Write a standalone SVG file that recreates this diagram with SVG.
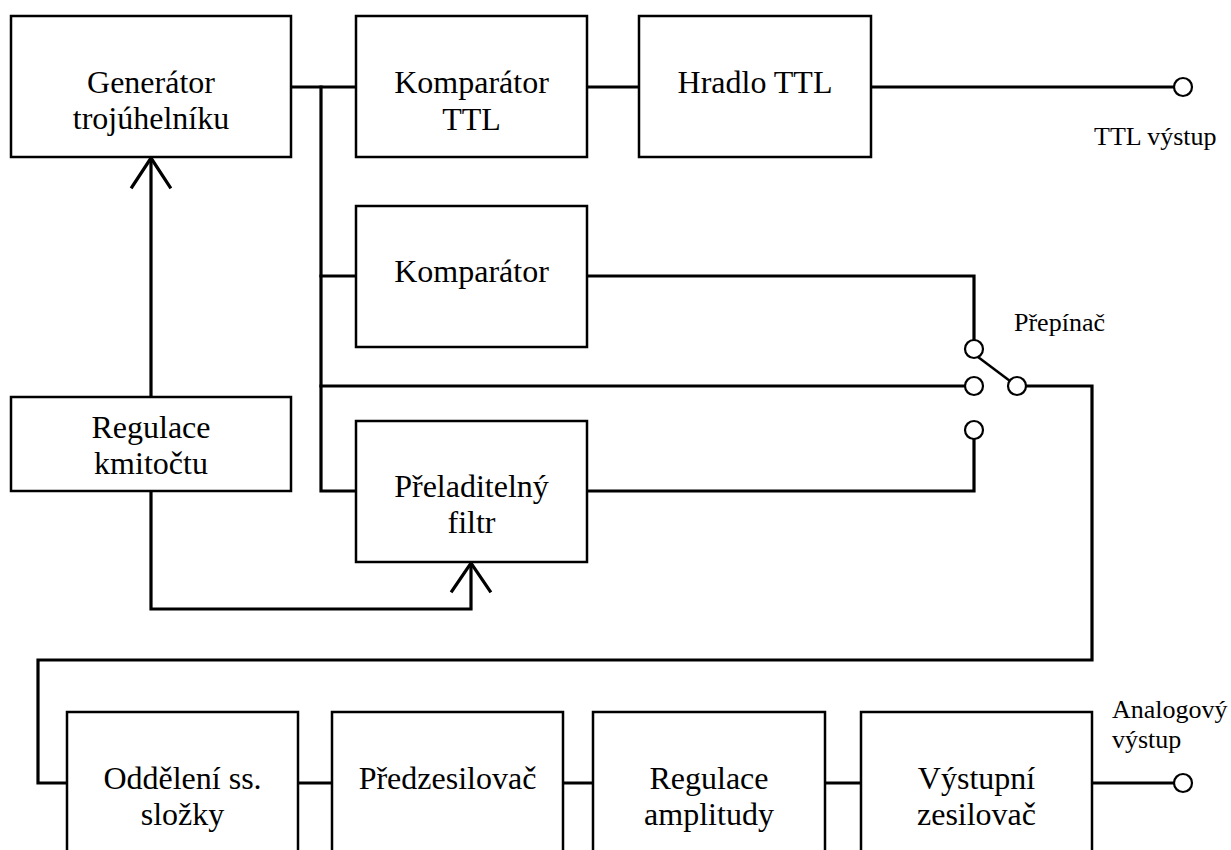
<svg xmlns="http://www.w3.org/2000/svg" width="1231" height="850" viewBox="0 0 1231 850">
<style>
.box{fill:#fff;stroke:#000;stroke-width:2.5}
.w{fill:none;stroke:#000;stroke-width:3.2;stroke-linejoin:miter;stroke-linecap:square}
.c{fill:#fff;stroke:#000;stroke-width:2.2}
.s{font-family:'Liberation Serif','Times New Roman','DejaVu Serif','Noto Serif',serif;fill:#000}
.t{font-size:32px;text-anchor:middle}
.l{font-size:26px}
</style>
<rect width="1231" height="850" fill="#fff"/>
<g id="connectors">
<path class="w" d="M291 87 H356"/>
<path class="w" d="M321 87 V491 H356"/>
<path class="w" d="M321 276 H356"/>
<path class="w" d="M321 386 H965"/>
<path class="w" d="M587 87 H639"/>
<path class="w" d="M871 87 H1174"/>
<path class="w" d="M587 276 H974 V340"/>
<path class="w" d="M587 491 H974 V439"/>
<path class="w" d="M1026 386 H1092 V660 H38 V783 H67"/>
<path class="w" d="M151 397 V158"/>
<path class="w" d="M132 187 L151 158 L170 187"/>
<path class="w" d="M151 491 V609 H471 V563"/>
<path class="w" d="M452 591 L471 563 L490 591"/>
<path class="w" d="M298 783 H332"/>
<path class="w" d="M563 783 H593"/>
<path class="w" d="M825 783 H861"/>
<path class="w" d="M1092 783 H1174"/>
<path fill="none" stroke="#000" stroke-width="2.5" d="M978 357 L1010 381"/>
</g>
<g id="gen"><rect class="box" x="11" y="16" width="280" height="141"/><text class="s t" x="151" y="93">Generátor</text><text class="s t" x="151" y="129">trojúhelníku</text></g>
<g id="kttl"><rect class="box" x="356" y="16" width="231" height="141"/><text class="s t" x="471.5" y="93">Komparátor</text><text class="s t" x="471.5" y="130">TTL</text></g>
<g id="hradlo"><rect class="box" x="639" y="16" width="232" height="141"/><text class="s t" x="755" y="93">Hradlo TTL</text></g>
<g id="komp"><rect class="box" x="356" y="206" width="231" height="141"/><text class="s t" x="471.5" y="282">Komparátor</text></g>
<g id="filtr"><rect class="box" x="356" y="421" width="231" height="141"/><text class="s t" x="471.5" y="497">Přeladitelný</text><text class="s t" x="471.5" y="533">filtr</text></g>
<g id="regk"><rect class="box" x="11" y="397" width="280" height="94"/><text class="s t" x="151" y="438">Regulace</text><text class="s t" x="151" y="474">kmitočtu</text></g>
<g id="odd"><rect class="box" x="67" y="712" width="231" height="150"/><text class="s t" x="182.5" y="789">Oddělení ss.</text><text class="s t" x="182.5" y="825">složky</text></g>
<g id="pred"><rect class="box" x="332" y="712" width="231" height="150"/><text class="s t" x="447.5" y="789">Předzesilovač</text></g>
<g id="rega"><rect class="box" x="593" y="712" width="232" height="150"/><text class="s t" x="709" y="789">Regulace</text><text class="s t" x="709" y="825">amplitudy</text></g>
<g id="vyst"><rect class="box" x="861" y="712" width="231" height="150"/><text class="s t" x="976.5" y="789">Výstupní</text><text class="s t" x="976.5" y="825">zesilovač</text></g>
<g id="ttlout"><circle class="c" cx="1183" cy="87" r="9"/><text class="s l" x="1094" y="145">TTL výstup</text></g>
<g id="switch"><circle class="c" cx="974" cy="349" r="9"/><circle class="c" cx="974" cy="386" r="9"/><circle class="c" cx="1017" cy="386" r="9"/><circle class="c" cx="974" cy="430" r="9"/><text class="s l" x="1014" y="331">Přepínač</text></g>
<g id="anout"><circle class="c" cx="1183" cy="783" r="9"/><text class="s l" x="1112" y="718">Analogový</text><text class="s l" x="1112" y="748">výstup</text></g>
</svg>
